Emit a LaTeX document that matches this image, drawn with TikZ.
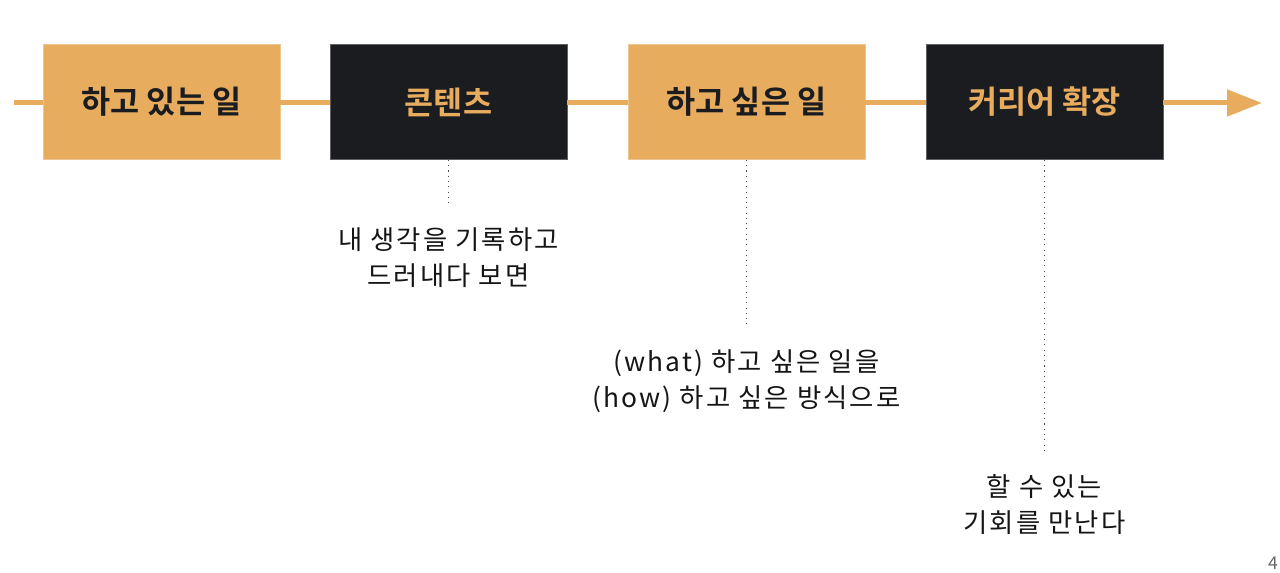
\documentclass[tikz,border=0pt]{standalone}
\usepackage{fontspec}
\setmainfont{Noto Sans CJK KR}[BoldFont={Noto Sans CJK KR Bold}]
\newfontfamily\noteFont{Noto Sans CJK KR}[LetterSpace=8]
\usetikzlibrary{arrows.meta}
\definecolor{narancs}{HTML}{E8AC5F}
\definecolor{sotet}{HTML}{1A1C20}
\definecolor{szoveg}{HTML}{151515}
\newcommand{\boxWidth}{4.74cm}
\newcommand{\boxHeight}{2.3cm}
\newcommand{\timeLineY}{103}
\newcommand{\boxY}{102}
\newcommand{\noteMarker}[5] %nev,x,y,doboz,szoveg
{\node[note] (#1) at (#2,#3) {#5};
\draw[dotline] (#4.south) -- (#1.north);}

\begin{document}
\begin{tikzpicture}[x=0.02cm,y=-0.02cm,
	lightbox/.style={fill=narancs,draw=narancs!70!white,line width=0.5pt,minimum width=\boxWidth,minimum height=\boxHeight,inner sep=0pt,text=sotet,font=\fontsize{18pt}{20pt}\selectfont\bfseries},
	darkbox/.style={fill=sotet,draw=sotet!70!white,line width=0.5pt,minimum width=\boxWidth,minimum height=\boxHeight,inner sep=0pt,text=narancs,font=\fontsize{18pt}{20pt}\selectfont\bfseries},
	timeline/.style={narancs,line width=0.1cm},
	dotline/.style={black!70,line width=0.6pt,dash pattern=on 0.6pt off 2.4pt,shorten >=0.42cm},
	note/.style={align=center,inner sep=0pt,text=szoveg,font=\noteFont\fontsize{15pt}{20.5pt}\selectfont}]
	\useasboundingbox (0,0) rectangle (1280,573);
	% idovonal dobozai
	\node[lightbox] (b1) at (161.5,\boxY) {하고 있는 일};
	\node[darkbox] (b2) at (448.5,\boxY) {콘텐츠};
	\node[lightbox] (b3) at (746.5,\boxY) {하고 싶은 일};
	\node[darkbox] (b4) at (1044.5,\boxY) {커리어 확장};
	\coordinate (start) at (14,\timeLineY);
	\coordinate (end) at (1262,\timeLineY);
	% idovonal
	\draw[timeline] (start)--(b1.west|-start)
	(b1.east|-start)--(b2.west|-start)
	(b2.east|-start)--(b3.west|-start)
	(b3.east|-start)--(b4.west|-start);
	\draw[timeline,-{Triangle[length=0.7cm,width=0.52cm]}] (b4.east|-start)--(end);
	% megjegyzesek
	\noteMarker{t1}{448.5}{258}{b2}{내 생각을 기록하고\\드러내다 보면}
	\noteMarker{t2}{746.5}{381}{b3}{(what) 하고 싶은 일을\\(how) 하고 싶은 방식으로}
	\noteMarker{t3}{1044.5}{504.5}{b4}{할 수 있는\\기회를 만난다}
	% oldalszam
	\node[text=black!60,font=\fontsize{10pt}{12pt}\selectfont,anchor=base] (oldal) at (1273,569) {4};
\end{tikzpicture}
\end{document}
